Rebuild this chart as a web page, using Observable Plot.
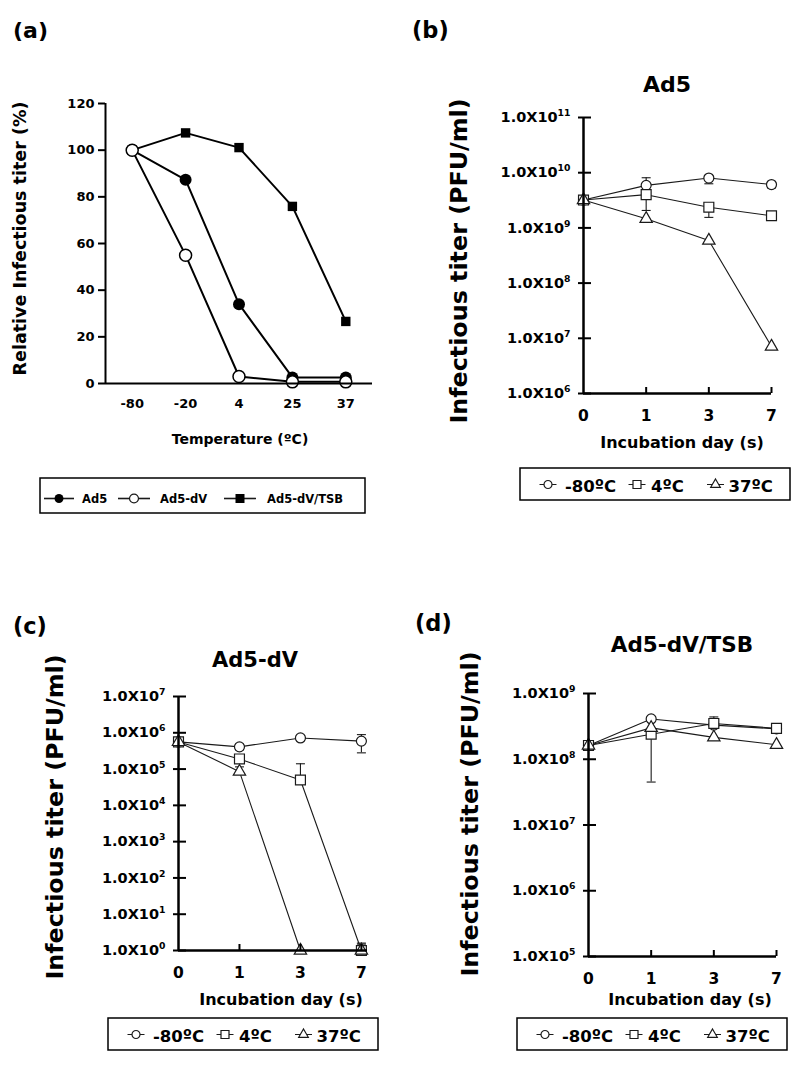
<!DOCTYPE html>
<html><head><meta charset="utf-8">
<script src="https://cdn.jsdelivr.net/npm/d3@7"></script>
<script src="https://cdn.jsdelivr.net/npm/@observablehq/plot@0.6"></script>
<style>
body{margin:0;background:#fff;}
#fig{position:relative;width:800px;height:1080px;background:#fff;overflow:hidden;}
#fig svg{position:absolute;}
</style></head><body><div id="fig"></div>
<script>
// ---------------- data ----------------
// (a) relative infectious titer (%) vs storage temperature
const tempLabels = ["-80", "-20", "4", "25", "37"];
const a_Ad5 = [100, 87.3, 34, 2.6, 2.6];
const a_Ad5dV = [100, 55, 3, 0.7, 0.7];
const a_Ad5dVTSB = [100, 107.4, 101.1, 75.9, 26.6];
const a_yTicks = [0, 20, 40, 60, 80, 100, 120];
const a_names = ["Ad5", "Ad5-dV", "Ad5-dV/TSB"];

// (b)-(d) infectious titer (PFU/ml) vs incubation day
const dayLabels = ["0", "1", "3", "7"];
const tempNames = ["-80ºC", "4ºC", "37ºC"];

// (b) Ad5
const b_m80 = [3.2e9, 5.9e9, 8.0e9, 6.1e9];
const b_m80_lo = [null, null, 6.3e9, 5.3e9];
const b_m80_hi = [null, 8.1e9, null, null];
const b_4 = [3.2e9, 4.0e9, 2.37e9, 1.66e9];
const b_4_lo = [null, 2.07e9, 1.55e9, null];
const b_4_hi = [null, null, null, null];
const b_37 = [3.2e9, 1.46e9, 5.9e8, 7.1e6];
const b_37_lo = [null, null, null, null];
const b_37_hi = [null, null, null, null];
const b_yTicks = [1e6, 1e7, 1e8, 1e9, 1e10, 1e11];

// (c) Ad5-dV
const c_m80 = [5.6e5, 4.1e5, 7.2e5, 5.9e5];
const c_m80_lo = [null, 3.4e5, 6.1e5, 2.8e5];
const c_m80_hi = [null, 4.9e5, 8.0e5, 8.9e5];
const c_4 = [5.6e5, 1.9e5, 5.0e4, 1];
const c_4_lo = [null, null, null, null];
const c_4_hi = [null, 2.3e5, 1.4e5, 1.6];
const c_37 = [5.6e5, 8.5e4, 1, 1];
const c_37_lo = [null, null, null, null];
const c_37_hi = [null, 1.15e5, null, 1.5];
const c_yTicks = [1, 1e1, 1e2, 1e3, 1e4, 1e5, 1e6, 1e7];

// (d) Ad5-dV/TSB
const d_m80 = [1.62e8, 4.1e8, 3.3e8, 2.9e8];
const d_m80_lo = [null, null, null, null];
const d_m80_hi = [null, null, null, null];
const d_4 = [1.62e8, 2.4e8, 3.5e8, 2.95e8];
const d_4_lo = [null, 4.5e7, null, null];
const d_4_hi = [null, null, 4.4e8, null];
const d_37 = [1.62e8, 3.0e8, 2.15e8, 1.66e8];
const d_37_lo = [null, null, null, null];
const d_37_hi = [null, null, null, null];
const d_yTicks = [1e5, 1e6, 1e7, 1e8, 1e9];

// ---------------- helpers ----------------
const fig = document.getElementById("fig");
const ink = "#1a1a1a";
const baseStyle = {fontFamily: "DejaVu Sans", fontWeight: "bold", color: "black", background: "transparent", overflow: "visible"};
const capSymbol = {draw(ctx, size) { const w = Math.sqrt(size / Math.PI); ctx.moveTo(-w, 0); ctx.lineTo(w, 0); }};

function place(svg, left, top) {
  svg.style.left = left + "px";
  svg.style.top = top + "px";
  fig.appendChild(svg);
  // superscript exponents in tick labels
  d3.select(svg).selectAll("text").each(function () {
    const t = this.textContent;
    if (!t.includes("^")) return;
    const [base, exp] = t.split("^");
    const sel = d3.select(this);
    sel.text(null);
    sel.append("tspan").text(base);
    sel.append("tspan").attr("dy", -6).attr("font-size", "0.64em").text(exp);
  });
}

function rowsOf(vals, lo, hi, s) {
  return vals.map((v, i) => ({i, v, lo: lo[i], hi: hi[i], s}));
}

// ---------------- panel (a) ----------------
{
  const rows = [
    ...a_Ad5.map((v, i) => ({i, v, s: a_names[0]})),
    ...a_Ad5dV.map((v, i) => ({i, v, s: a_names[1]})),
    ...a_Ad5dVTSB.map((v, i) => ({i, v, s: a_names[2]}))
  ];
  const svg = Plot.plot({
    width: 400, height: 460,
    marginLeft: 105, marginRight: 28, marginTop: 103, marginBottom: 77,
    style: baseStyle,
    x: {type: "linear", domain: [-0.5, 4.5], label: null},
    y: {domain: [0, 120], label: null},
    marks: [
      Plot.line(rows, {x: "i", y: "v", z: "s", stroke: "black", strokeWidth: 2}),
      Plot.dot(rows.filter(d => d.s === a_names[2]), {x: "i", y: "v", symbol: "square", r: 5.3, fill: "black", stroke: "none"}),
      Plot.dot(rows.filter(d => d.s === a_names[0]), {x: "i", y: "v", symbol: "circle", r: 6, fill: "black", stroke: "none"}),
      Plot.dot(rows.filter(d => d.s === a_names[1]), {x: "i", y: "v", symbol: "circle", r: 6, fill: "white", stroke: "black", strokeWidth: 1.5}),
      Plot.axisY({ticks: a_yTicks, tickSize: 7, tickPadding: 4, fontSize: 13, strokeWidth: 2, label: null}),
      Plot.axisX({ticks: [0, 1, 2, 3, 4], tickFormat: i => tempLabels[i], tickSize: 0, tickPadding: 15, fontSize: 13, label: null}),
      Plot.ruleY([0], {strokeWidth: 2}),
      Plot.ruleX([-0.5], {strokeWidth: 2})
    ]
  });
  place(svg, 0, 0);
}

// ---------------- panels (b)-(d) ----------------
function logPanel(o) {
  const series = [
    {rows: rowsOf(o.m80, o.m80lo, o.m80hi, tempNames[0]), symbol: "circle", r: 5},
    {rows: rowsOf(o.c4, o.c4lo, o.c4hi, tempNames[1]), symbol: "square", r: 5.6},
    {rows: rowsOf(o.c37, o.c37lo, o.c37hi, tempNames[2]), symbol: "triangle", r: 4.6}
  ];
  const all = series.flatMap(s => s.rows);
  const lo = all.filter(d => d.lo != null), hi = all.filter(d => d.hi != null);
  const fmt = d => "1.0X10^" + Math.round(Math.log10(d));
  const svg = Plot.plot({
    width: 400, height: o.height,
    marginLeft: o.mL, marginRight: o.mR, marginTop: o.mT, marginBottom: o.mB,
    style: baseStyle,
    x: {type: "linear", domain: o.xDomain, label: null},
    y: {type: "log", domain: o.yDomain, label: null},
    marks: [
      Plot.ruleX(lo, {x: "i", y1: "v", y2: "lo", stroke: ink, strokeWidth: 1.1}),
      Plot.ruleX(hi, {x: "i", y1: "v", y2: "hi", stroke: ink, strokeWidth: 1.1}),
      Plot.dot(lo, {x: "i", y: "lo", symbol: capSymbol, r: 4.5, fill: "none", stroke: ink, strokeWidth: 1.1}),
      Plot.dot(hi, {x: "i", y: "hi", symbol: capSymbol, r: 4.5, fill: "none", stroke: ink, strokeWidth: 1.1}),
      Plot.line(all, {x: "i", y: "v", z: "s", stroke: ink, strokeWidth: 1.1}),
      series.map(s => Plot.dot(s.rows, {x: "i", y: "v", symbol: s.symbol, r: s.r, fill: "white", stroke: ink, strokeWidth: 1.2})),
      Plot.axisY({ticks: o.yTicks, tickFormat: fmt, tickSize: 5, tickPadding: 8, fontSize: 14.5, strokeWidth: 2, label: null}),
      Plot.axisY({ticks: o.yTicks, tickFormat: () => "", tickSize: -8, strokeWidth: 2, label: null}),
      Plot.axisX({ticks: [0, 1, 2, 3], tickFormat: i => dayLabels[i], tickSize: 0, tickPadding: 16, fontSize: 15.5, label: null}),
      Plot.axisX({ticks: [1, 2, 3], tickFormat: () => "", tickSize: -6, strokeWidth: 2, label: null}),
      Plot.ruleX([o.xDomain[0]], {strokeWidth: 2.5}),
      Plot.ruleY([o.yDomain[0]], {strokeWidth: 2.5})
    ]
  });
  place(svg, o.left, o.top);
}

logPanel({left: 400, top: 0, height: 430, mL: 183, mR: 29, mT: 117, mB: 37,
  xDomain: [0, 3], yDomain: [1e6, 1e11], yTicks: b_yTicks,
  m80: b_m80, m80lo: b_m80_lo, m80hi: b_m80_hi, c4: b_4, c4lo: b_4_lo, c4hi: b_4_hi, c37: b_37, c37lo: b_37_lo, c37hi: b_37_hi});
logPanel({left: 0, top: 560, height: 440, mL: 178, mR: 33, mT: 136, mB: 50,
  xDomain: [0, 3.1], yDomain: [1, 1e7], yTicks: c_yTicks,
  m80: c_m80, m80lo: c_m80_lo, m80hi: c_m80_hi, c4: c_4, c4lo: c_4_lo, c4hi: c_4_hi, c37: c_37, c37lo: c_37_lo, c37hi: c_37_hi});
logPanel({left: 400, top: 560, height: 440, mL: 188, mR: 24, mT: 133, mB: 44,
  xDomain: [0, 3], yDomain: [1e5, 1e9], yTicks: d_yTicks,
  m80: d_m80, m80lo: d_m80_lo, m80hi: d_m80_hi, c4: d_4, c4lo: d_4_lo, c4hi: d_4_hi, c37: d_37, c37lo: d_37_lo, c37hi: d_37_hi});

// ---------------- text annotations & legends ----------------
const ov = d3.select(fig).append("svg")
  .attr("width", 800).attr("height", 1080)
  .style("left", "0px").style("top", "0px")
  .attr("font-family", "DejaVu Sans").attr("font-weight", "bold").attr("fill", "black");

function txt(x, y, s, size, anchor = "start", rot = 0) {
  ov.append("text").attr("transform", `translate(${x},${y}) rotate(${rot})`)
    .attr("font-size", size).attr("text-anchor", anchor).text(s);
}
// panel letters
txt(13, 37.5, "(a)", 22);
txt(412, 37.5, "(b)", 22.5);
txt(13, 634, "(c)", 22.5);
txt(415, 631, "(d)", 22.5);
// titles
txt(667, 92, "Ad5", 22, "middle");
txt(255, 667, "Ad5-dV", 21, "middle");
txt(682, 652, "Ad5-dV/TSB", 21.5, "middle");
// axis labels
txt(26, 238.5, "Relative Infectious titer (%)", 17.5, "middle", -90);
txt(240, 444, "Temperature (ºC)", 14, "middle");
txt(467, 261, "Infectious titer (PFU/ml)", 23.8, "middle", -90);
txt(63, 817, "Infectious titer (PFU/ml)", 23.8, "middle", -90);
txt(478, 814, "Infectious titer (PFU/ml)", 23.8, "middle", -90);
txt(682, 448, "Incubation day (s)", 16, "middle");
txt(281, 1005, "Incubation day (s)", 16, "middle");
txt(690, 1005, "Incubation day (s)", 16, "middle");

function symPath(type, size) {
  const m = {circle: d3.symbolCircle, square: d3.symbolSquare, triangle: d3.symbolTriangle};
  return d3.symbol(m[type], size)();
}
function legendItem(cx, cy, half, type, size, fill, sw) {
  ov.append("line").attr("x1", cx - half).attr("x2", cx + half).attr("y1", cy).attr("y2", cy)
    .attr("stroke", ink).attr("stroke-width", sw);
  ov.append("path").attr("d", symPath(type, size)).attr("transform", `translate(${cx},${cy})`)
    .attr("fill", fill).attr("stroke", fill === "black" ? "none" : ink).attr("stroke-width", 1.2);
}
function box(x, y, w, h) {
  ov.append("rect").attr("x", x).attr("y", y).attr("width", w).attr("height", h)
    .attr("fill", "none").attr("stroke", "black").attr("stroke-width", 1.5);
}
// legend (a)
box(40, 478, 325, 35);
legendItem(59, 498.5, 15, "circle", Math.PI * 20, "black", 1.6);
txt(82, 503, a_names[0], 11.5);
legendItem(134, 498.5, 16, "circle", Math.PI * 20, "white", 1.6);
txt(160, 503, a_names[1], 11.5);
legendItem(240, 498.5, 16, "square", 81, "black", 1.6);
txt(267, 503, a_names[2], 11.5);
// legends (b)-(d)
function tempLegend(x, y) {
  box(x, y, 270, 32);
  const cy = y + 16.5, by = y + 23.5;
  legendItem(x + 28, cy, 8.5, "circle", Math.PI * 16, "white", 1);
  txt(x + 45, by, tempNames[0], 16.5);
  legendItem(x + 117, cy, 8.5, "square", 64, "white", 1);
  txt(x + 131, by, tempNames[1], 16.5);
  legendItem(x + 195.5, cy, 8.5, "triangle", 40, "white", 1);
  txt(x + 208.5, by, tempNames[2], 16.5);
}
tempLegend(520, 468);
tempLegend(108, 1018);
tempLegend(517, 1018);
</script>
</body></html>
